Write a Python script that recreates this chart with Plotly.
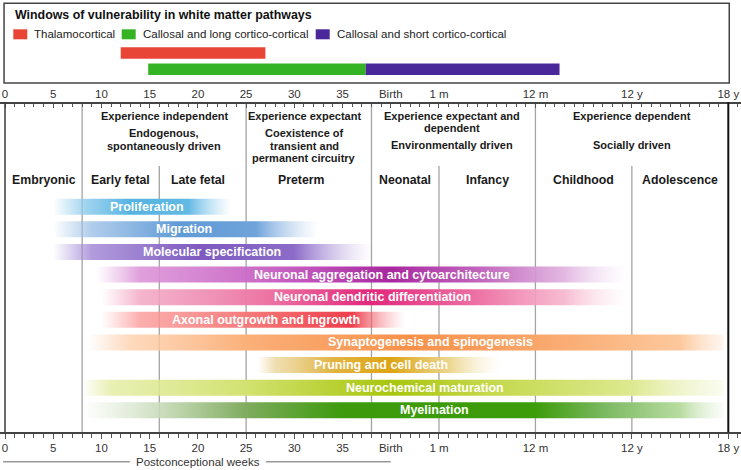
import plotly.graph_objects as go

# ---------------- data ----------------
# timeline units: 0-40 = postconceptional weeks (40 = birth), 45 = 1 m, 55 = 12 m, 65 = 12 y, 75 = 18 y
tick_vals = [0, 5, 10, 15, 20, 25, 30, 35, 40, 45, 55, 65, 75]
tick_text = ["0", "5", "10", "15", "20", "25", "30", "35", "Birth", "1 m", "12 m", "12 y", "18 y"]

window_names = ["Thalamocortical", "Callosal and long cortico-cortical", "Callosal and short cortico-cortical"]
window_start = [12, 14.85, 37.4]
window_end = [27, 37.4, 57.5]
window_row = [0, 1, 1]
window_colors = ["#e84536", "#34b424", "#4b2899"]

period_names = ["Embryonic", "Early fetal", "Late fetal", "Preterm", "Neonatal", "Infancy", "Childhood", "Adolescence"]
period_centers = [4, 12, 20, 30.7, 41.5, 50, 60, 70]

stage_centers = [16.5, 31.05, 46.4, 65]
stage_headers = [["Experience independent"], ["Experience expectant"],
                 ["Experience expectant and", "dependent"], ["Experience dependent"]]
stage_drivers = [["Endogenous,", "spontaneously driven"],
                 ["Coexistence of", "transient and", "permanent circuitry"],
                 ["Environmentally driven"], ["Socially driven"]]

full_dividers = [8, 25, 38, 55]
part_dividers = [16, 45, 65]

process_names = ["Proliferation", "Migration", "Molecular specification",
                 "Neuronal aggregation and cytoarchitecture", "Neuronal dendritic differentiation",
                 "Axonal outgrowth and ingrowth", "Synaptogenesis and spinogenesis",
                 "Pruning and cell death", "Neurochemical maturation", "Myelination"]
process_start = [5, 5, 5, 9.5, 10, 10, 8.6, 26.2, 8, 8]
process_end = [23.5, 32.5, 38, 64.5, 64.6, 41.5, 74.5, 51.4, 74.5, 74.5]
process_label_x = [14.7, 18.6, 21.5, 39.1, 38.1, 27.1, 44.1, 39.0, 43.6, 44.5]

# ---------------- style ----------------
# gradient stops (timeline position, colour, opacity) for each process bar
gradients = [
    [(5, "#8ccbeb", 0), (8.5, "#8ccbeb", 0.85), (13, "#55b3e2", 1), (19, "#62b9e4", 1), (23.5, "#a4d6ef", 0)],
    [(5, "#9cc0e6", 0), (9, "#9cc0e6", 0.8), (18, "#5f9ad6", 1), (26, "#6fa3da", 1), (32.5, "#b3cdee", 0)],
    [(5, "#a58ed8", 0), (9, "#a48ad6", 0.85), (20, "#7e5ac0", 1), (30, "#8c6cc8", 1), (38, "#c5b3e6", 0)],
    [(9.5, "#e0a0dc", 0), (14, "#dc95d8", 0.9), (30, "#c45ac0", 1), (40, "#a8289f", 1), (50, "#c46cc0", 1),
     (58, "#dfb0de", 0.9), (64.5, "#f0d8f0", 0)],
    [(10, "#f4b0c8", 0), (14, "#f2a8c4", 0.85), (28, "#ec70a0", 1), (38, "#e2287c", 1), (48, "#ec6aa0", 1),
     (58, "#f6b4cc", 0.9), (64.6, "#fde0ea", 0)],
    [(10, "#fca0a0", 0), (14, "#fa9a98", 0.8), (28, "#f46a6c", 1), (36, "#ee3e4c", 1), (41.5, "#f89aa0", 0)],
    [(8.6, "#fdd0b0", 0), (13, "#fdd0ac", 0.8), (25, "#fbb07a", 1), (42, "#f7914a", 1), (55, "#f9a66a", 1),
     (70, "#fdc89c", 1), (74.5, "#fde0c8", 0.3)],
    [(26.2, "#ead69a", 0), (28, "#e8d090", 0.7), (34, "#e2b440", 1), (40, "#dea414", 1), (46, "#ead080", 0.9),
     (51.4, "#f8ecc8", 0)],
    [(8, "#e4eca0", 0), (11, "#e2eca0", 0.8), (25, "#d2e270", 1), (40, "#a8c60e", 1), (50, "#c4d84a", 1),
     (65, "#dde990", 1), (74.5, "#eef4c8", 0.3)],
    [(8, "#d8e6cc", 0), (15, "#d0e0c4", 0.9), (25, "#7fab5e", 1), (35, "#3c9a0c", 1), (55, "#3d9c0a", 1),
     (62, "#7ab860", 1), (70, "#b8dca0", 1), (74.5, "#e4f0da", 0.2)],
]

FONT = "Liberation Sans, Arial, sans-serif"
W, H = 741, 470
PX0, PPU = 5.0, 9.644          # pixel of unit 0, pixels per unit
X_RANGE = [-PX0 / PPU, (W - PX0) / PPU]
TOP_AXIS_Y, BOTTOM_AXIS_Y = 102.3, 432.3
ROW0_Y, ROW_STEP, BAR_H = 206.7, 22.62, 16
WIN_ROW_Y, WIN_H = [53, 69.2], 11.4


def rgba(hx, a):
    hx = hx.lstrip("#")
    r, g, b = int(hx[0:2], 16), int(hx[2:4], 16), int(hx[4:6], 16)
    return f"rgba({r},{g},{b},{a})"


fig = go.Figure()

# windows of vulnerability bars
for name, s, e, row, col in zip(window_names, window_start, window_end, window_row, window_colors):
    fig.add_trace(go.Bar(orientation="h", base=[s], x=[e - s], y=[WIN_ROW_Y[row]], width=WIN_H,
                         marker=dict(color=col, line=dict(width=0)), showlegend=False,
                         hoverinfo="skip", name=name))

# process bars with horizontal gradients
for i, (name, s, e, stops) in enumerate(zip(process_names, process_start, process_end, gradients)):
    yc = ROW0_Y + ROW_STEP * i
    cs = [[(u - s) / (e - s), rgba(c, a)] for u, c, a in stops]
    cs[0][0], cs[-1][0] = 0, 1
    fig.add_trace(go.Scatter(
        x=[s, e, e, s, s], y=[yc - BAR_H / 2, yc - BAR_H / 2, yc + BAR_H / 2, yc + BAR_H / 2, yc - BAR_H / 2],
        mode="lines", line=dict(width=0), fill="toself",
        fillgradient=dict(type="horizontal", colorscale=cs),
        showlegend=False, hoverinfo="skip", name=name))
    fig.add_annotation(x=process_label_x[i], y=yc, text=f"<b>{name}</b>", showarrow=False,
                       font=dict(family=FONT, size=12.5, color="white"), xanchor="center", yanchor="middle")

shapes = []
# divider lines
for d in full_dividers:
    shapes.append(dict(type="line", x0=d, x1=d, y0=TOP_AXIS_Y, y1=BOTTOM_AXIS_Y, layer="below",
                       line=dict(color="#a3a3a3", width=1.3)))
for d in part_dividers:
    shapes.append(dict(type="line", x0=d, x1=d, y0=166, y1=BOTTOM_AXIS_Y, layer="below",
                       line=dict(color="#a3a3a3", width=1.3)))
# frame sides
shapes.append(dict(type="line", x0=0, x1=0, y0=TOP_AXIS_Y, y1=BOTTOM_AXIS_Y, line=dict(color="#3a3a3a", width=1.5)))
shapes.append(dict(type="line", x0=75, x1=75, y0=TOP_AXIS_Y, y1=BOTTOM_AXIS_Y, line=dict(color="#111", width=2)))
# legend box
shapes.append(dict(type="rect", x0=-0.1, x1=75.1, y0=3.3, y1=83, line=dict(color="#444", width=1.5),
                   fillcolor="rgba(0,0,0,0)"))

# legend swatches / text (pixel based)
legend_px = [13.3, 121.7, 315.7]
for px, name, col in zip(legend_px, window_names, window_colors):
    u0 = (px - PX0) / PPU
    u1 = (px + 14 - PX0) / PPU
    shapes.append(dict(type="rect", x0=u0, x1=u1, y0=29.3, y1=39.3, fillcolor=col, line=dict(width=0)))
    fig.add_annotation(x=(px + 19 - PX0) / PPU, y=34.3, text=name, showarrow=False, xanchor="left",
                       yanchor="middle", font=dict(family=FONT, size=11.5, color="#222"))

fig.add_annotation(x=(12.5 - PX0) / PPU, y=15, text="<b>Windows of vulnerability in white matter pathways</b>",
                   showarrow=False, xanchor="left", yanchor="middle", font=dict(family=FONT, size=12.4, color="#111"))

# stage headers
driver_start = [132.7, 132.7, 145, 145]
for c, hdr, drv, y0 in zip(stage_centers, stage_headers, stage_drivers, driver_start):
    for k, line in enumerate(hdr):
        fig.add_annotation(x=c, y=115.7 + 12.6 * k, text=f"<b>{line}</b>", showarrow=False,
                           font=dict(family=FONT, size=11, color="#1a1a1a"), xanchor="center", yanchor="middle")
    for k, line in enumerate(drv):
        fig.add_annotation(x=c, y=y0 + 12.8 * k, text=f"<b>{line}</b>", showarrow=False,
                           font=dict(family=FONT, size=11, color="#1a1a1a"), xanchor="center", yanchor="middle")

for name, c in zip(period_names, period_centers):
    fig.add_annotation(x=c, y=180, text=f"<b>{name}</b>", showarrow=False,
                       font=dict(family=FONT, size=12.3, color="#1a1a1a"), xanchor="center", yanchor="middle")

# postconceptional weeks label
mid = (tick_vals[0] + tick_vals[8]) / 2
fig.add_annotation(x=mid, y=461.7, text="Postconceptional weeks", showarrow=False,
                   font=dict(family=FONT, size=11.5, color="#333"), xanchor="center", yanchor="middle")
gap = 68 / PPU
shapes.append(dict(type="line", x0=-0.2, x1=mid - gap, y0=461.7, y1=461.7, line=dict(color="#9a9a9a", width=1.5)))
shapes.append(dict(type="line", x0=mid + gap, x1=tick_vals[8], y0=461.7, y1=461.7,
                   line=dict(color="#9a9a9a", width=1.5)))

axis_common = dict(range=X_RANGE, tickvals=tick_vals, ticktext=tick_text, showline=True,
                   linecolor="#444", linewidth=1.3, showgrid=False, zeroline=False,
                   tickfont=dict(family=FONT, size=11.5, color="#333"), tickcolor="#555", tickwidth=1,
                   domain=[0, 1], fixedrange=True)

fig.update_layout(
    width=W, height=H, margin=dict(l=0, r=0, t=0, b=0),
    paper_bgcolor="white", plot_bgcolor="white", showlegend=False, barmode="overlay",
    shapes=shapes,
    xaxis=dict(**axis_common, anchor="free", position=1 - BOTTOM_AXIS_Y / H, side="bottom",
               ticks="outside", ticklen=5,
               minor=dict(dtick=1, tick0=0, ticks="outside", ticklen=4, tickcolor="#555", tickwidth=1)),
    xaxis2=dict(**axis_common, anchor="free", position=1 - TOP_AXIS_Y / H, side="top", overlaying="x",
                ticks="inside", ticklen=4,
                minor=dict(dtick=1, tick0=0, ticks="inside", ticklen=3, tickcolor="#555", tickwidth=1)),
    yaxis=dict(range=[H, 0], domain=[0, 1], visible=False, fixedrange=True),
)
# dummy trace to activate the top axis
fig.add_trace(go.Scatter(x=[0], y=[-50], xaxis="x2", mode="markers", marker=dict(opacity=0),
                         showlegend=False, hoverinfo="skip"))

fig.write_html("out.html", config={"displayModeBar": False, "staticPlot": True},
               post_script="document.body.style.margin='0';document.body.style.overflow='hidden';")
